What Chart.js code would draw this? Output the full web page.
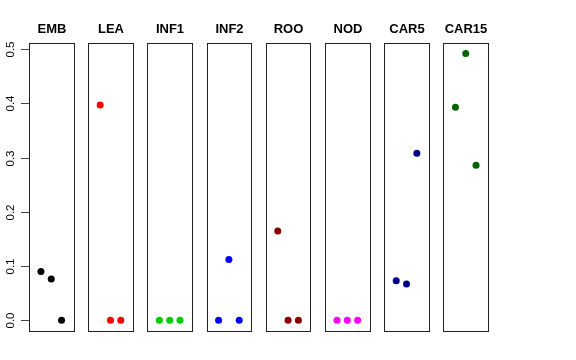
<!DOCTYPE html>
<html>
<head>
<meta charset="utf-8">
<script src="https://cdn.jsdelivr.net/npm/chart.js@4/dist/chart.umd.min.js"></script>
<style>
  html, body { margin: 0; padding: 0; background: #fff; }
  #wrap { width: 576px; height: 360px; }
</style>
</head>
<body>
<div id="wrap"><canvas id="myChart" width="576" height="360"></canvas></div>
<script>
// tissues (panels) and the three values in each
var tissues = ['EMB', 'LEA', 'INF1', 'INF2', 'ROO', 'NOD', 'CAR5', 'CAR15'];
var emb   = [0.090, 0.076, 0];
var lea   = [0.397, 0, 0];
var inf1  = [0, 0, 0];
var inf2  = [0, 0.112, 0];
var roo   = [0.165, 0, 0];
var nod   = [0, 0, 0];
var car5  = [0.073, 0.067, 0.308];
var car15 = [0.393, 0.492, 0.286];
var yTicks = [0, 0.1, 0.2, 0.3, 0.4, 0.5];

var values = [emb, lea, inf1, inf2, roo, nod, car5, car15];
var colors = ['#000000', '#FF0000', '#00CD00', '#0000FF', '#8B0000', '#FF00FF', '#00008B', '#006400'];

// each panel spans x = -0.16 .. 4.16 (xlim 0..4 with R's 4% pad), panels repeat every `step`
var step = 5.747;
var lo = -0.16, hi = 4.16;

var datasets = [];
for (var i = 0; i < values.length; i++) {
  datasets.push({
    label: tissues[i],
    data: values[i].map(function (v, j) { return {x: i * step + j + 1, y: v}; }),
    backgroundColor: colors[i],
    borderColor: colors[i],
    pointRadius: 3.5,
    pointHoverRadius: 3.5,
    borderWidth: 0,
    showLine: false
  });
}

var panels = {
  id: 'panels',
  beforeDatasetsDraw: function (chart) {
    var c = chart.ctx, a = chart.chartArea, xs = chart.scales.x, ys = chart.scales.y;
    c.save();
    c.strokeStyle = '#222';
    c.lineWidth = 1;
    c.fillStyle = '#000';
    c.font = 'bold 13px "Liberation Sans", Arial, sans-serif';
    c.textAlign = 'center';
    c.textBaseline = 'alphabetic';
    for (var i = 0; i < tissues.length; i++) {
      var x0 = Math.round(xs.getPixelForValue(i * step + lo)) + 0.5;
      var x1 = Math.round(xs.getPixelForValue(i * step + hi)) + 0.5;
      c.strokeRect(x0, Math.round(a.top) + 0.5, x1 - x0, Math.round(a.bottom - a.top));
      c.fillText(tissues[i], (x0 + x1) / 2, 33);
    }
    // y ticks and rotated labels
    c.font = '11.5px "Liberation Sans", Arial, sans-serif';
    c.textBaseline = 'middle';
    c.strokeStyle = '#444';
    yTicks.forEach(function (v) {
      var y = Math.round(ys.getPixelForValue(v)) + 0.5;
      c.beginPath();
      c.moveTo(21, y);
      c.lineTo(a.left, y);
      c.stroke();
      c.save();
      c.translate(11, y);
      c.rotate(-Math.PI / 2);
      c.fillText(v.toFixed(1), 0, 0);
      c.restore();
    });
    c.restore();
  }
};

new Chart(document.getElementById('myChart'), {
  type: 'scatter',
  data: { datasets: datasets },
  options: {
    responsive: false,
    animation: false,
    events: [],
    layout: { padding: { left: 0, top: 43, right: 88, bottom: 29 } },
    plugins: { legend: { display: false }, tooltip: { enabled: false } },
    scales: {
      x: {
        type: 'linear',
        display: false,
        min: lo,
        max: (tissues.length - 1) * step + hi
      },
      y: {
        type: 'linear',
        min: -0.0197,
        max: 0.5116,
        afterBuildTicks: function (s) { s.ticks = yTicks.map(function (v) { return {value: v}; }); },
        afterFit: function (s) { s.width = 29; },
        ticks: { display: false },
        border: { display: false },
        grid: { display: false }
      }
    }
  },
  plugins: [panels]
});
</script>
</body>
</html>
